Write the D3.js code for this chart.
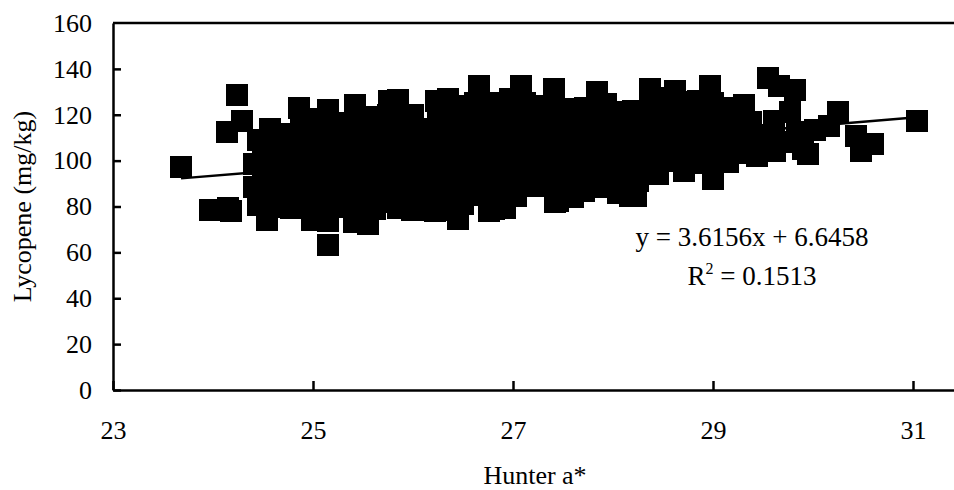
<!DOCTYPE html>
<html>
<head>
<meta charset="utf-8">
<script src="https://cdn.jsdelivr.net/npm/d3@7"></script>
<style>
  body { margin: 0; background: #fff; }
  text { font-family: "Liberation Serif", "Times New Roman", serif; fill: #000; }
</style>
</head>
<body>
<script>
(function (d3) {
  'use strict'

  const w = 954
  const h = 490

  // Hunter a* vs lycopene (mg/kg)
  const outliers = [
    [23.68, 97.3], [23.97, 78.5], [24.15, 79.5], [24.18, 78.0], [24.14, 112.3], [24.29, 117.4],
    [24.24, 128.7], [24.54, 74.3], [25.15, 63.2], [24.99, 73.9], [25.15, 73.6], [25.41, 73.2],
    [25.55, 72.3], [26.45, 74.6], [26.76, 78.1], [26.81, 78.8], [27.42, 82.0], [27.45, 82.3],
    [28.17, 84.7], [28.23, 84.6], [29.0, 91.8], [28.71, 95.5], [28.45, 94.3], [29.15, 99.3],
    [29.44, 102.1], [29.23, 103.5], [29.31, 124.3], [29.55, 136.2], [29.66, 132.6], [29.82, 130.8],
    [29.77, 121.0], [29.61, 117.3], [29.84, 112.3], [29.9, 105.0], [29.95, 102.8], [30.02, 113.4],
    [30.16, 115.2], [30.25, 121.3], [30.43, 110.8], [30.48, 104.3], [30.6, 107.2], [31.04, 117.3],
    [29.7, 108], [29.62, 104], [29.5, 111], [29.5, 106]
  ]

  const upperEdge = [
    [24.45, 109], [24.57, 114], [24.72, 111.5], [24.86, 122.9], [25.0, 118], [25.15, 122.1],
    [25.28, 116.5], [25.42, 124.3], [25.58, 119], [25.76, 126.1], [25.85, 126.5], [26.0, 120],
    [26.1, 114], [26.23, 126.1], [26.35, 126.8], [26.5, 124], [26.66, 132.6], [26.82, 125],
    [26.97, 126.8], [27.08, 132.6], [27.21, 123.9], [27.41, 131.2], [27.55, 122], [27.63, 122.4],
    [27.72, 123], [27.84, 130], [27.93, 124.9], [28.05, 121], [28.2, 121.7], [28.37, 131.1],
    [28.5, 127.4], [28.62, 130.4], [28.75, 125.5], [28.85, 126.1], [28.97, 132.6], [29.1, 123]
  ]

  const lowerEdge = [
    [24.41, 88.5], [24.41, 98.5], [24.45, 80.5], [24.65, 79.8], [24.78, 79.4], [24.86, 84],
    [25.28, 84], [25.7, 82], [25.85, 79.5], [25.99, 78.3], [26.12, 78.5], [26.22, 78.2],
    [26.35, 78.5], [26.6, 85], [26.92, 79.5], [27.03, 84.7], [27.18, 89], [27.6, 84],
    [27.71, 86.9], [27.84, 88.3], [27.96, 88.3], [28.05, 86]
  ]

  const core = [
    [24.5, 86], [24.5, 93], [24.5, 100], [24.5, 106],
    [24.62, 87], [24.62, 94], [24.62, 101], [24.62, 108],
    [24.75, 87], [24.75, 94], [24.75, 100], [24.75, 105],
    [24.88, 91], [24.88, 98], [24.88, 105], [24.88, 111], [24.88, 116],
    [25.0, 81], [25.0, 88], [25.0, 95], [25.0, 102], [25.0, 109],
    [25.12, 80], [25.12, 87], [25.12, 94], [25.12, 100], [25.12, 107], [25.12, 114],
    [25.25, 80], [25.25, 88], [25.25, 95], [25.25, 101], [25.25, 109],
    [25.37, 81], [25.37, 88], [25.37, 95], [25.37, 102], [25.37, 109], [25.37, 116],
    [25.5, 80], [25.5, 87], [25.5, 94], [25.5, 101], [25.5, 108], [25.5, 114],
    [25.62, 79], [25.62, 86], [25.62, 93], [25.62, 100], [25.62, 107], [25.62, 113], [25.62, 118],
    [25.75, 87], [25.75, 94], [25.75, 101], [25.75, 108], [25.75, 114], [25.75, 120],
    [25.88, 85], [25.88, 92], [25.88, 99], [25.88, 106], [25.88, 113], [25.88, 119],
    [26.0, 85], [26.0, 92], [26.0, 99], [26.0, 106], [26.0, 113],
    [26.12, 85], [26.12, 92], [26.12, 99], [26.12, 106],
    [26.25, 85], [26.25, 92], [26.25, 99], [26.25, 106], [26.25, 113], [26.25, 120],
    [26.38, 83], [26.38, 90], [26.38, 97], [26.38, 104], [26.38, 111], [26.38, 118],
    [26.5, 81], [26.5, 88], [26.5, 95], [26.5, 102], [26.5, 109], [26.5, 116],
    [26.62, 91], [26.62, 98], [26.62, 105], [26.62, 112], [26.62, 119], [26.62, 125],
    [26.75, 85], [26.75, 92], [26.75, 99], [26.75, 106], [26.75, 113], [26.75, 119],
    [26.88, 86], [26.88, 93], [26.88, 100], [26.88, 107], [26.88, 114], [26.88, 120],
    [27.0, 91], [27.0, 98], [27.0, 105], [27.0, 112], [27.0, 118], [27.0, 124],
    [27.12, 92], [27.12, 99], [27.12, 106], [27.12, 113], [27.12, 119], [27.12, 125],
    [27.25, 94], [27.25, 101], [27.25, 108], [27.25, 115], [27.25, 118],
    [27.38, 89], [27.38, 96], [27.38, 103], [27.38, 110], [27.38, 117], [27.38, 124],
    [27.5, 90], [27.5, 97], [27.5, 104], [27.5, 111], [27.5, 116],
    [27.62, 91], [27.62, 98], [27.62, 105], [27.62, 112], [27.62, 117],
    [27.75, 93], [27.75, 100], [27.75, 107], [27.75, 114], [27.75, 118],
    [27.88, 94], [27.88, 101], [27.88, 108], [27.88, 115], [27.88, 122],
    [28.0, 93], [28.0, 100], [28.0, 107], [28.0, 114],
    [28.12, 91], [28.12, 98], [28.12, 105], [28.12, 112], [28.12, 116],
    [28.25, 91], [28.25, 98], [28.25, 105], [28.25, 112], [28.25, 116],
    [28.38, 99], [28.38, 106], [28.38, 113], [28.38, 120], [28.38, 125],
    [28.5, 100], [28.5, 107], [28.5, 114], [28.5, 120],
    [28.62, 101], [28.62, 108], [28.62, 115], [28.62, 122],
    [28.75, 101], [28.75, 108], [28.75, 114], [28.75, 120],
    [28.88, 99], [28.88, 106], [28.88, 113], [28.88, 119],
    [29.0, 99], [29.0, 106], [29.0, 113], [29.0, 119], [29.0, 125],
    [29.12, 105], [29.12, 111], [29.12, 117],
    [29.25, 110], [29.25, 116], [29.38, 110], [29.38, 117]
  ]

  const slope = 3.6156
  const intercept = 6.6458
  const xTicks = [23, 25, 27, 29, 31]
  const yTicks = [0, 20, 40, 60, 80, 100, 120, 140, 160]

  const points = outliers.concat(upperEdge, lowerEdge, core)

  const svg = d3.select('body').append('svg')
    .attr('width', w)
    .attr('height', h)

  const x = d3.scaleLinear().domain([23, 31.41]).range([113, 954])
  const y = d3.scaleLinear().domain([0, 160]).range([390, 23])

  // markers
  const size = 22
  svg.append('g')
    .selectAll('rect')
    .data(points)
    .enter().append('rect')
    .attr('x', d => x(d[0]) - size / 2)
    .attr('y', d => y(d[1]) - size / 2)
    .attr('width', size)
    .attr('height', size)
    .attr('fill', '#000')
    .attr('shape-rendering', 'crispEdges')

  // linear trendline over the data range
  const xMin = d3.min(points, d => d[0])
  const xMax = d3.max(points, d => d[0])
  svg.append('line')
    .attr('x1', x(xMin))
    .attr('y1', y(slope * xMin + intercept))
    .attr('x2', x(xMax))
    .attr('y2', y(slope * xMax + intercept))
    .attr('stroke', '#000')
    .attr('stroke-width', 2.5)

  // top border of the plot area
  svg.append('line')
    .attr('x1', x.range()[0])
    .attr('x2', x.range()[1])
    .attr('y1', y(160))
    .attr('y2', y(160))
    .attr('stroke', '#000')
    .attr('stroke-width', 2.5)

  const yAxis = svg.append('g')
    .attr('transform', 'translate(' + x(23) + ',0)')
    .call(d3.axisLeft(y).tickValues(yTicks).tickSizeInner(-8).tickSizeOuter(0).tickPadding(21))

  const xAxis = svg.append('g')
    .attr('transform', 'translate(0,' + y(0) + ')')
    .call(d3.axisBottom(x).tickValues(xTicks).tickSizeInner(-9).tickSizeOuter(0))

  for (const g of [yAxis, xAxis]) {
    g.attr('font-family', null).attr('font-size', null)
    g.select('.domain').attr('stroke', '#000').attr('stroke-width', 2.5)
    g.selectAll('.tick line').attr('stroke', '#000').attr('stroke-width', 2.5)
    g.selectAll('.tick text').style('font-size', '26px').attr('fill', '#000')
  }
  yAxis.selectAll('.tick').filter(d => d === 160).select('line').remove()
  xAxis.selectAll('.tick text').attr('y', 49).attr('dy', 0)

  svg.append('text')
    .attr('transform', 'translate(31,' + (y(80)) + ') rotate(-90)')
    .attr('text-anchor', 'middle')
    .style('font-size', '26px')
    .text('Lycopene (mg/kg)')

  svg.append('text')
    .attr('x', 535)
    .attr('y', 484)
    .attr('text-anchor', 'middle')
    .style('font-size', '26px')
    .text('Hunter a*')

  const eq = svg.append('g').attr('transform', 'translate(752,0)')
  eq.append('text')
    .attr('y', 246)
    .attr('text-anchor', 'middle')
    .style('font-size', '27px')
    .text('y = ' + slope + 'x + ' + intercept)

  const r2 = eq.append('text')
    .attr('y', 285)
    .attr('text-anchor', 'middle')
    .style('font-size', '27px')
  r2.append('tspan').text('R')
  r2.append('tspan').attr('dy', -11).style('font-size', '16px').text('2')
  r2.append('tspan').attr('dy', 11).text(' = 0.1513')

}(d3))
</script>
</body>
</html>
